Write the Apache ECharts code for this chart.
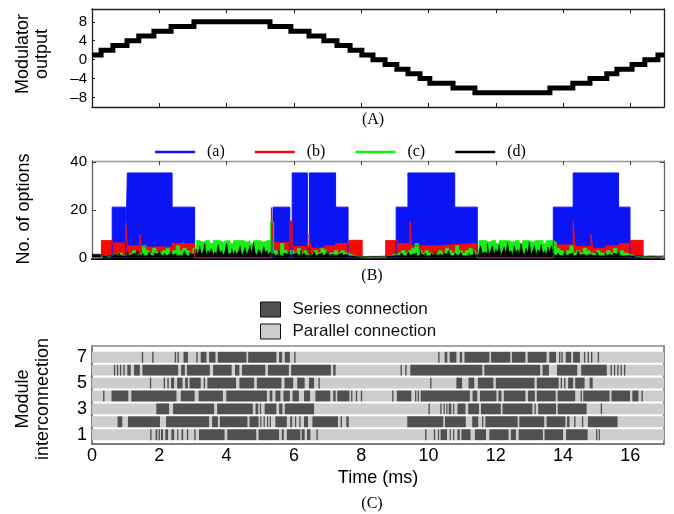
<!DOCTYPE html>
<html><head><meta charset="utf-8">
<script src="https://cdn.jsdelivr.net/npm/echarts@6/dist/echarts.min.js"></script>
<style>html,body{margin:0;padding:0;background:#fff}#c{width:674px;height:514px}</style>
</head><body><div id="c"></div>
<script>
// ---------- Panel A: modulator output (step changes) ----------
const modTimes  = [0,0.27,0.62,1.04,1.39,1.84,2.35,3.03,5.29,5.91,6.45,6.89,7.28,7.67,8.02,8.35,8.71,9.06,9.39,9.75,10.04,10.73,11.38,13.61,14.29,14.80,15.30,15.60,16.05,16.43,16.82,17];
const modLevels = [1,2,3,4,5,6,7,8,7,6,5,4,3,2,1,0,-1,-2,-3,-4,-5,-6,-7,-6,-5,-4,-3,-2,-1,0,1,1];

// ---------- Panel B: number of options ----------
const optA = [[0,0],[0.6,21.2],[1.0,0],[1.05,35.5],[2.38,21.2],[3.05,0],[5.38,21.2],[5.88,0],[5.95,35.5],[6.40,0],[6.46,35.5],[7.24,21.2],[7.61,0],[9.04,21.2],[9.39,35.5],[10.78,21.2],[11.45,0],[13.71,21.2],[14.30,35.5],[15.65,21.2],[15.99,0],[17,0]];
const optB = [[0,0],[0.28,7.2],[0.6,6.2],[1.0,14.7],[1.05,5],[1.42,10],[1.47,4.5],[2.38,6],[3.05,0],[5.33,21],[5.38,6.3],[5.88,15.4],[5.95,4.7],[6.45,9.8],[6.5,4],[6.9,5],[7.24,6],[7.64,7.3],[8.03,0],[8.73,7.2],[9.07,6],[9.45,15.4],[9.5,5],[10.3,5.5],[10.78,6],[11.45,0],[13.71,5.4],[14.3,15.4],[14.35,4.7],[14.83,9.8],[14.88,4],[15.27,5],[15.67,6],[15.99,7.3],[16.38,0],[17,0]];
const optCStep = 0.1;
const optC = [0,0,0, 1,0.5,1, 1.5,1,2,1,1.5,
 2,3,1.5,2,5,3,2,4,2.5,2,3,4,2,3,5,3,4,3,2,4,
 7.2,6.5,7.2,7.2,6,7.2,7.2,6.5,7.2,7.2,6,7.2,7.2,7.2,6.5,7.2,6,7.2,7.2,6.5,7.2,7.2,
 15,
 3,2,6,3,2,3,2,4,2,3,1.5,2,3,2,4,3,2,2,3,2,3,2,1.5,
 1,0.5,0.5,0.5,0.3,0.3,0.5,0.3,0.5,0.5,
 1,1,1.5,1,
 2,3,2,3,4,6,3,2,3,2,1.5,2,3,2,4,3,2,5,3,2,3,4,3,2,
 7.2,7.2,6.5,7.2,7.2,6,7.2,7.2,7.2,6.5,7.2,7.2,6,7.2,7.2,6.5,7.2,7.2,7.2,6,7.2,7.2,6.5,
 4,3,2,3,5,2,3,2,4,3,2,1.5,3,2,2,3,2,4,2,3,2,1.5,1,
 0.5,0.5,0.3,0.5,0.3,0.3,0.5,0.3,0.3,0.3];
const optDStep = 0.05;
const optD = [1.5,1.5,1.5,1.5,1.5,1.2,1,0.8,1,0.8,
 1,1,1,1.5,0.8,1,2,1,0.8,1.5,
 1,2.5,1,1.5,0.8,2,1,3,1.5,1,
 2,0.8,1,1.5,2.5,1,0.8,2,1.5,1,
 3,1.2,1,2,0.8,1.5,1,2.5,1,1.8,
 0.8,1.2,2,1,1.5,3,1,0.8,2,1.5,
 1,2,3.5,1,5,1.5,2.5,6,1,3,
 2,4,1,2.5,1.5,5.5,2,3,1,2.5,
 6,1.5,2,4,1,3,1.5,2.5,5,1,
 2,4.5,1,3,5,1.5,6.5,2,1,3.5,
 2.5,1,5,2,3,1,2.5,1,2,1,
 1.5,3,1,0.8,2,1.5,1,2.5,1,1.5,
 0.8,2,1,1.5,3,1,2,1,0.8,1.5,
 2,1,2.5,1,1.5,1,2,0.8,1.5,1,
 3,1,1.5,2,1,0.8,1.5,1,2,1,
 1.5,1,0.8,0.8,0.8,0.7,0.6,0.6,0.5,0.6,
 0.5,0.6,0.5,0.6,0.6,0.5,0.6,0.5,0.6,0.5,
 0.6,0.6,0.7,0.8,0.8,1,0.8,1,0.8,1,
 1,0.8,1,1.5,2,1,0.8,1.5,2.5,1,
 1.5,1,2,0.8,1,3,1.5,1,2,1,
 0.8,1.5,2,1,2.5,1,1.5,0.8,1,2,
 1.5,1,3,1,0.8,1.5,2,1,1.5,2.5,
 1,0.8,1.5,1,2,1,1.5,3,1,1.5,
 3,5,1.5,2.5,2,6,1,3,5,1.5,
 3.5,2,5.5,1,2.5,4.5,1.5,6.5,2,3,
 1,5,2,3.5,1.5,6,2.5,1,4,2,
 6.5,1.5,3,5,1,3.5,2,5.5,1.5,3,
 1,4.5,2,5,1.5,1,1.5,2,1,0.8,
 1.5,2.5,1,1.5,1,2,0.8,1,1.5,3,
 1,1.5,2,1,0.8,1.5,2,1,1.5,1,
 2.5,1,0.8,1.5,1,2,1,1.5,0.8,1,
 2,1.5,1,2.5,1,0.8,1.5,1,1,0.8,
 0.8,0.8,0.7,0.8,0.7,0.8,0.8,0.7,0.8,0.7,
 0.8,0.8,0.7,0.8,0.8,0.7,0.8,0.7,0.8,0.8,
 0.8];
const optNames = ['(a)','(b)','(c)','(d)'];

// ---------- Panel C: module interconnection (series segments per module) ----------
const modules = [1,2,3,4,5,6,7];
const seriesSeg = {
 7: [[1.48,1.52],[1.79,1.83],[2.46,2.5],[2.54,2.58],[2.72,2.85],[3.1,3.14],[3.23,3.4],[3.48,3.67],[3.74,4.59],[4.64,5.48],[5.56,5.65],[5.73,5.88],[6.01,6.05],[10.29,10.33],[10.48,10.56],[10.63,10.83],[10.93,11.0],[11.07,11.81],[11.86,12.43],[12.48,12.88],[12.95,13.51],[13.59,13.79],[13.88,13.92],[13.95,13.99],[14.08,14.24],[14.3,14.5],[14.62,14.66],[14.73,14.77],[14.83,14.87],[15.03,15.07]],
 6: [[0.65,0.69],[0.74,0.78],[0.83,0.87],[0.93,0.97],[1.05,1.15],[1.25,1.42],[1.5,2.56],[2.65,2.76],[2.82,3.5],[3.6,4.15],[4.25,4.38],[4.46,5.15],[5.23,5.85],[5.92,7.1],[7.17,7.24],[9.17,9.21],[9.31,9.35],[9.46,11.6],[11.66,13.32],[13.39,13.58],[13.82,14.42],[14.54,15.3],[15.41,15.45],[15.51,15.55],[15.61,15.65],[15.71,15.75],[15.81,15.85]],
 5: [[1.72,1.76],[2.13,2.17],[2.24,2.28],[2.35,2.44],[2.53,2.69],[2.77,2.85],[2.9,3.23],[3.32,3.36],[3.43,4.28],[4.38,4.82],[4.9,5.63],[5.72,5.98],[6.1,6.32],[6.45,6.6],[6.73,6.77],[10.05,10.09],[10.83,11.0],[11.19,11.36],[11.47,11.93],[12.0,13.15],[13.22,13.87],[13.93,13.97],[14.03,14.07],[14.15,14.3],[14.36,14.64],[14.79,14.88]],
 4: [[0.33,0.37],[0.58,1.08],[1.17,2.51],[2.64,3.05],[3.17,3.89],[3.99,5.2],[5.28,5.36],[5.45,5.6],[5.69,5.88],[5.96,6.15],[6.3,6.48],[6.64,7.08],[7.17,7.24],[7.29,7.65],[7.7,7.74],[7.84,7.88],[7.99,8.03],[8.92,8.96],[9.06,9.49],[9.6,9.64],[9.68,9.72],[9.77,11.23],[11.31,11.45],[11.53,12.02],[12.08,12.17],[12.24,12.88],[12.96,13.16],[13.22,13.78],[13.84,14.36],[14.52,14.56],[14.6,15.38],[15.44,15.99],[16.06,16.24],[16.33,16.37]],
 3: [[1.91,2.29],[2.41,3.63],[3.72,4.78],[4.86,4.94],[4.99,5.02],[5.13,5.48],[5.56,5.66],[5.73,6.6],[10.0,10.04],[10.35,10.39],[10.45,10.48],[10.53,10.56],[10.6,10.68],[10.73,10.76],[10.86,11.1],[11.18,11.5],[11.56,12.15],[12.2,13.09],[13.15,13.19],[13.26,13.79],[13.84,14.7],[15.12,15.16]],
 2: [[0.76,0.9],[1.07,2.02],[2.2,3.48],[3.57,3.74],[3.8,4.62],[4.68,4.95],[5.0,5.03],[5.1,5.13],[5.2,5.23],[5.28,5.31],[5.45,5.79],[5.89,5.95],[6.03,6.07],[6.16,6.2],[6.3,6.42],[6.55,7.31],[7.39,7.43],[7.56,7.63],[9.37,10.44],[10.49,11.11],[11.3,11.48],[11.59,11.63],[11.69,12.65],[12.7,13.44],[13.51,14.07],[14.12,14.19],[14.33,14.37],[14.56,14.6],[14.74,15.62]],
 1: [[1.73,1.77],[1.89,1.94],[1.98,2.02],[2.05,2.11],[2.18,2.26],[2.36,2.44],[2.53,2.56],[2.66,2.71],[2.82,2.86],[3.04,3.08],[3.18,3.94],[4.02,4.88],[4.95,5.56],[5.64,5.7],[5.79,6.19],[6.23,6.32],[6.39,6.49],[6.67,6.71],[9.9,9.94],[10.16,10.2],[10.28,10.31],[10.36,10.55],[10.63,10.66],[10.73,10.76],[10.86,10.93],[10.98,11.25],[11.38,11.71],[11.81,12.38],[12.45,12.6],[12.68,13.4],[13.45,14.0],[14.09,14.73],[14.98,15.02],[15.06,15.09]]
};
const connNames = ['Series connection','Parallel connection'];

// ---------- tick labels ----------
const timeTicks = [0,2,4,6,8,10,12,14,16];
const modTicks = [-8,-4,0,4,8];
const optTicks = [0,20,40];
const moduleTicks = [1,3,5,7];
const T_MAX = 17;

// ---------- build ----------
const modData = modTimes.map((t,i)=>[t, modLevels[i]]);
const optCData = optC.map((v,i)=>[+(i*optCStep).toFixed(3), v]);
const optDData = optD.map((v,i)=>[+(i*optDStep).toFixed(3), v]);
const bandData = modules.map(m=>[m,0,T_MAX]);
const segData = [];
modules.forEach(m=>seriesSeg[m].forEach(s=>segData.push([m,s[0],s[1]])));

const SANS = '"Liberation Sans", Arial, Helvetica, sans-serif';
const SERIF = '"Liberation Serif", "Times New Roman", serif';
const BAND_H = 0.84;

function segRender(params, api){
  const row = api.value(0), s = api.value(1), e = api.value(2);
  const p0 = api.coord([s,row]), p1 = api.coord([e,row]);
  const h = api.size([0,BAND_H])[1];
  const cs = params.coordSys;
  const shape = echarts.graphic.clipRectByRect(
    {x:p0[0], y:p0[1]-h/2, width:Math.max(p1[0]-p0[0],1.2), height:h},
    {x:cs.x, y:cs.y, width:cs.width, height:cs.height});
  return shape && {type:'rect', shape, style: api.style()};
}

function xAx(grid, pos, opts){
  return Object.assign({type:'value', gridIndex:grid, position:pos, min:0, max:T_MAX,
    axisLine:{onZero:false, lineStyle:{color:'#222', width:1.3}},
    axisTick:{show:true, inside:true, length:4, customValues:timeTicks, lineStyle:{color:'#222'}},
    axisLabel:{show:false}, splitLine:{show:false}}, opts||{});
}

const option = {
  animation:false,
  backgroundColor:'#fff',
  grid:[
    {left:92, top:9, width:572, height:98},
    {left:92, top:161, width:572, height:98},
    {left:92, top:346, width:572, height:98}
  ],
  legend:[
    {data:optNames, left:155, top:144, padding:0, icon:'rect', itemWidth:40, itemHeight:2.5, itemGap:30, selectedMode:false,
     textStyle:{fontFamily:SERIF, fontSize:16, color:'#000', padding:[0,0,0,7]}},
    {data:connNames.map((n,i)=>({name:n, itemStyle:{color:i?'#cdcdcd':'#505050', borderColor:'#111', borderWidth:1}})),
     left:260, top:301, padding:0, orient:'vertical', icon:'rect', itemWidth:20, itemHeight:15, itemGap:5, selectedMode:false,
     textStyle:{fontFamily:SANS, fontSize:17, color:'#111', padding:[0,0,0,7]}}
  ],
  xAxis:[
    xAx(0,'bottom'),
    xAx(0,'top'),
    xAx(1,'bottom',{axisLine:{onZero:false, lineStyle:{color:'#000', width:2}}}),
    xAx(1,'top',{axisLine:{onZero:false, lineStyle:{color:'#999', width:1.3}}, axisTick:{show:true, inside:true, length:4, customValues:timeTicks, lineStyle:{color:'#444'}}}),
    xAx(2,'bottom',{axisLine:{onZero:false, lineStyle:{color:'#555', width:1.5}}, axisTick:{show:false},
      axisLabel:{show:true, customValues:timeTicks, margin:3, fontFamily:SANS, fontSize:18, color:'#000'},
      name:'Time (ms)', nameLocation:'middle', nameGap:25, nameTextStyle:{fontFamily:SANS, fontSize:18, color:'#000'}}),
    xAx(2,'top',{axisLine:{onZero:false, lineStyle:{color:'#888', width:1.5}}, axisTick:{show:false}})
  ],
  yAxis:[
    {type:'value', gridIndex:0, position:'left', min:-10, max:10.7,
     axisLine:{onZero:false, lineStyle:{color:'#222', width:1.3}},
     axisTick:{show:true, inside:true, length:3, customValues:modTicks, lineStyle:{color:'#222'}},
     axisLabel:{customValues:modTicks, margin:5, fontFamily:SANS, fontSize:15, color:'#000',
       formatter:v=>v<0?'\u2013'+(-v):String(v)}, splitLine:{show:false}},
    {type:'value', gridIndex:0, position:'right', min:-10, max:10.7,
     axisLine:{show:true, onZero:false, lineStyle:{color:'#222', width:1.3}}, axisTick:{show:false}, axisLabel:{show:false}, splitLine:{show:false}},
    {type:'value', gridIndex:1, position:'left', min:-0.5, max:40.5,
     axisLine:{onZero:false, lineStyle:{color:'#666', width:1.3}},
     axisTick:{show:true, inside:true, length:4, customValues:optTicks, lineStyle:{color:'#444'}},
     axisLabel:{customValues:optTicks, margin:5, fontFamily:SANS, fontSize:15, color:'#000'}, splitLine:{show:false}},
    {type:'value', gridIndex:1, position:'right', min:-0.5, max:40.5,
     axisLine:{show:true, onZero:false, lineStyle:{color:'#666', width:1.3}},
     axisTick:{show:true, inside:true, length:4, customValues:optTicks, lineStyle:{color:'#444'}}, axisLabel:{show:false}, splitLine:{show:false}},
    {type:'value', gridIndex:2, position:'left', min:0.28, max:7.87,
     axisLine:{onZero:false, lineStyle:{color:'#555', width:1.5}}, axisTick:{show:false},
     axisLabel:{customValues:moduleTicks, margin:5, fontFamily:SANS, fontSize:18, color:'#000'}, splitLine:{show:false}},
    {type:'value', gridIndex:2, position:'right', min:0.28, max:7.87,
     axisLine:{show:true, onZero:false, lineStyle:{color:'#666', width:1.5}}, axisTick:{show:false}, axisLabel:{show:false}, splitLine:{show:false}}
  ],
  series:[
    {type:'line', name:'Modulator output', xAxisIndex:0, yAxisIndex:0, data:modData, step:'end', symbol:'none',
     lineStyle:{color:'#000', width:5, cap:'butt', join:'miter'}},
    {type:'line', name:optNames[0], xAxisIndex:2, yAxisIndex:2, data:optA, step:'end', symbol:'none',
     itemStyle:{color:'#0a14f5'}, lineStyle:{color:'#0a14f5', width:1}, areaStyle:{color:'#0a14f5', opacity:1}},
    {type:'line', name:optNames[1], xAxisIndex:2, yAxisIndex:2, data:optB, step:'end', symbol:'none',
     itemStyle:{color:'#f50a0a'}, lineStyle:{color:'#f50a0a', width:1}, areaStyle:{color:'#f50a0a', opacity:1}},
    {type:'line', name:optNames[2], xAxisIndex:2, yAxisIndex:2, data:optCData, step:'end', symbol:'none',
     itemStyle:{color:'#14f014'}, lineStyle:{color:'#14f014', width:0.8}, areaStyle:{color:'#14f014', opacity:1}},
    {type:'line', name:optNames[3], xAxisIndex:2, yAxisIndex:2, data:optDData, step:'end', symbol:'none',
     itemStyle:{color:'#000'}, lineStyle:{color:'#000', width:0.6}, areaStyle:{color:'#000', opacity:1}},
    {type:'custom', name:connNames[1], xAxisIndex:4, yAxisIndex:4, data:bandData, renderItem:segRender,
     encode:{x:[1,2], y:0}, itemStyle:{color:'#cdcdcd'}},
    {type:'custom', name:connNames[0], xAxisIndex:4, yAxisIndex:4, data:segData, renderItem:segRender,
     encode:{x:[1,2], y:0}, itemStyle:{color:'#505050'}}
  ],
  graphic:[
    {type:'text', x:33, y:54, rotation:Math.PI/2, style:{text:'Modulator\noutput', fontFamily:SANS, fontSize:18, lineHeight:19, fill:'#000', textAlign:'center', textVerticalAlign:'middle', align:'center', verticalAlign:'middle'}},
    {type:'text', x:24, y:209, rotation:Math.PI/2, style:{text:'No. of options', fontFamily:SANS, fontSize:18, fill:'#000', textAlign:'center', textVerticalAlign:'middle', align:'center', verticalAlign:'middle'}},
    {type:'text', x:33, y:399, rotation:Math.PI/2, style:{text:'Module\ninterconnection', fontFamily:SANS, fontSize:18, lineHeight:20, fill:'#000', textAlign:'center', textVerticalAlign:'middle', align:'center', verticalAlign:'middle'}},
    {type:'text', x:373, y:120, style:{text:'(A)', fontFamily:SERIF, fontSize:16, fill:'#000', textAlign:'center', textVerticalAlign:'middle', align:'center', verticalAlign:'middle'}},
    {type:'text', x:372, y:276, style:{text:'(B)', fontFamily:SERIF, fontSize:16, fill:'#000', textAlign:'center', textVerticalAlign:'middle', align:'center', verticalAlign:'middle'}},
    {type:'text', x:372, y:504, style:{text:'(C)', fontFamily:SERIF, fontSize:16, fill:'#000', textAlign:'center', textVerticalAlign:'middle', align:'center', verticalAlign:'middle'}}
  ]
};
const chart = echarts.init(document.getElementById('c'));
chart.setOption(option);
</script></body></html>
